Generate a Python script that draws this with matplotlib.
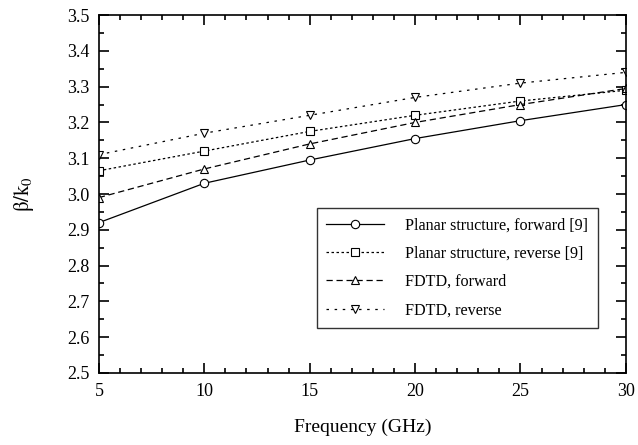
import matplotlib.pyplot as plt
from matplotlib.ticker import MultipleLocator

plt.rcParams['font.family'] = ['Liberation Serif', 'DejaVu Serif']
plt.rcParams['mathtext.fontset'] = 'stix'

freq = [5, 10, 15, 20, 25, 30]
planar_fwd = [2.92, 3.03, 3.095, 3.155, 3.205, 3.25]
planar_rev = [3.065, 3.12, 3.175, 3.22, 3.26, 3.29]
fdtd_fwd = [2.99, 3.07, 3.14, 3.20, 3.25, 3.295]
fdtd_rev = [3.11, 3.17, 3.22, 3.27, 3.31, 3.34]

labels = ['Planar structure, forward [9]', 'Planar structure, reverse [9]',
          'FDTD, forward', 'FDTD, reverse']

fig = plt.figure(figsize=(6.38, 4.45), dpi=100)
ax = fig.add_axes([0.155, 0.162, 0.826, 0.804])

mk = dict(color='black', lw=0.9, markersize=6, markerfacecolor='white',
          markeredgewidth=0.8)
ax.plot(freq, planar_fwd, marker='o', ls='-', label=labels[0], **mk)
ax.plot(freq, planar_rev, marker='s', ls=(0, (2, 2)), label=labels[1], **mk)
ax.plot(freq, fdtd_fwd, marker='^', ls=(0, (5, 3)), label=labels[2], **mk)
ax.plot(freq, fdtd_rev, marker='v', ls=(0, (2, 4.5)), label=labels[3], **mk)

ax.set_xlim(5, 30)
ax.set_ylim(2.5, 3.5)
ax.xaxis.set_major_locator(MultipleLocator(5))
ax.xaxis.set_minor_locator(MultipleLocator(1))
ax.yaxis.set_major_locator(MultipleLocator(0.1))
ax.yaxis.set_minor_locator(MultipleLocator(0.05))
ax.yaxis.set_major_formatter(plt.FuncFormatter(lambda v, p: f'{v:.1f}'))
ax.tick_params(which='both', direction='in', top=True, right=True,
               labelsize=13, width=1.2)
ax.tick_params(which='major', length=7, pad=7)
ax.tick_params(which='minor', length=3.5)
for s in ax.spines.values():
    s.set_linewidth(1.2)

ax.set_xlabel('Frequency (GHz)', fontsize=14, labelpad=14)
ax.set_ylabel(r'$\mathrm{\beta/k_0}$', fontsize=15, labelpad=22)

leg = ax.legend(loc='lower right', bbox_to_anchor=(0.947, 0.126), fontsize=11.6,
                frameon=True, fancybox=False, edgecolor='black',
                handlelength=3.6, borderpad=0.6, labelspacing=0.75,
                handletextpad=1.3, borderaxespad=0)
leg.get_frame().set_linewidth(1.0)

fig.savefig('out.png', dpi=100)
